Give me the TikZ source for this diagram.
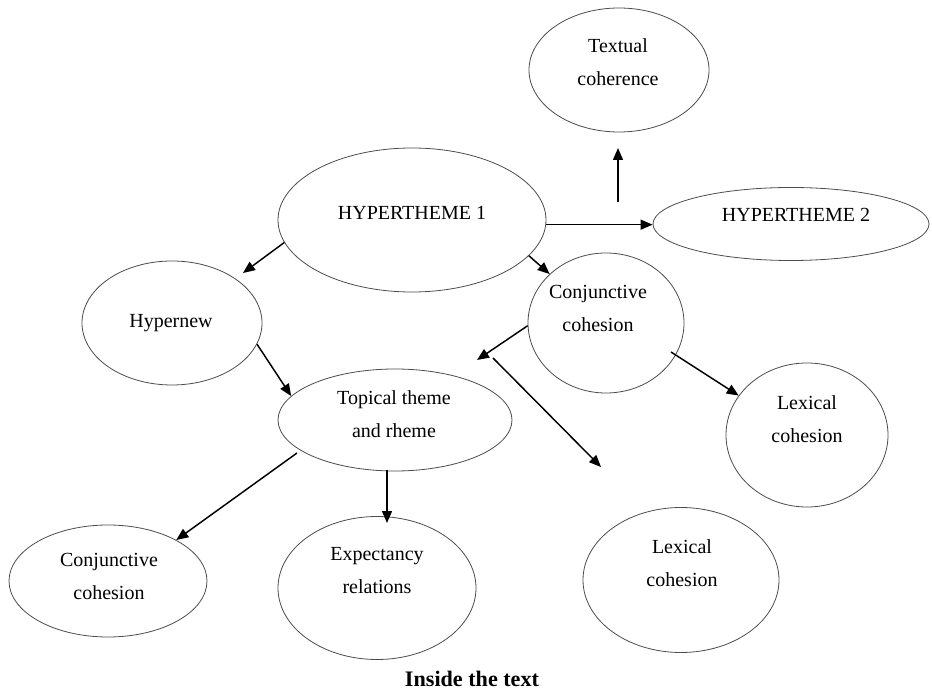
\documentclass[tikz,border=0pt]{standalone}
\usepackage{fontspec}
\setmainfont{Liberation Serif}
\usetikzlibrary{shapes.geometric,arrows.meta}
\begin{document}
\begin{tikzpicture}[x=0.75pt,y=-0.75pt,
  ell/.style={draw=black!70, line width=0.6pt, ellipse, inner sep=0pt},
  txt/.style={align=center, inner sep=0pt, font=\fontsize{15}{24.75}\selectfont},
  arr/.style={draw=black, line width=1.1pt, -{Triangle[length=9pt,width=7.5pt]}}]
\useasboundingbox (0,0) rectangle (932,691);
% ellipses
\node[ell, minimum width=135pt, minimum height=93pt] (tc) at (619,70) {};
\node[ell, minimum width=201pt, minimum height=108pt] (h1) at (412,220) {};
\node[ell, minimum width=207pt, minimum height=54.75pt] (h2) at (791,224) {};
\node[ell, minimum width=135pt, minimum height=93pt] (hn) at (172,323) {};
\node[ell, minimum width=117pt, minimum height=105pt] (cjr) at (606,323) {};
\node[ell, minimum width=175.5pt, minimum height=76.5pt] (tr) at (395,420) {};
\node[ell, minimum width=121.5pt, minimum height=108pt] (lxr) at (807,435) {};
\node[ell, minimum width=147pt, minimum height=108.75pt] (lxb) at (681,580) {};
\node[ell, minimum width=148.5pt, minimum height=84pt] (cbl) at (108,581) {};
\node[ell, minimum width=148.5pt, minimum height=107.25pt] (ex) at (377,588) {};
% texts
\node[txt] (tc-t) at (618,62) {Textual\\coherence};
\node[txt] (h1-t) at (412,213) {HYPERTHEME 1};
\node[txt] (h2-t) at (796,215) {HYPERTHEME 2};
\node[txt] (hn-t) at (171,323) {Hypernew};
\node[txt] (cjr-t) at (598,308) {Conjunctive\\cohesion};
\node[txt] (tr-t) at (394,414) {Topical theme\\and rheme};
\node[txt] (lxr-t) at (807,419) {Lexical\\cohesion};
\node[txt] (lxb-t) at (682,563) {Lexical\\cohesion};
\node[txt] (cbl-t) at (109,576) {Conjunctive\\cohesion};
\node[txt] (ex-t) at (377,571) {Expectancy\\relations};
\node[inner sep=0pt, font=\fontsize{16.6}{18}\selectfont\bfseries] (cap) at (472,679) {Inside the text};
% free ends
\coordinate (u1) at (618,202);
\coordinate (u2) at (618,148);
\coordinate (c3) at (243,273);
\coordinate (c6) at (477,360);
\coordinate (c7a) at (493,358);
\coordinate (c7b) at (601,467);
\coordinate (c8) at (671,352);
\coordinate (c9) at (297,453);
\coordinate (c10a) at (387,470);
\coordinate (c10b) at (387,523);
% connectors
\draw[arr] (u1) -- (u2);
\draw[arr] (h1.-2) -- (h1.-2 -| h2.west);
\draw[arr] (h1.190) -- (c3);
\draw[arr] (h1.343) -- (cjr.139);
\draw[arr] (hn.-14) -- (tr.167);
\draw[arr] (cjr.182) -- (c6);
\draw[arr] (c7a) -- (c7b);
\draw[arr] (c8) -- (lxr.150);
\draw[arr] (c9) -- (cbl.31);
\draw[arr] (c10a) -- (c10b);
\end{tikzpicture}
\end{document}
